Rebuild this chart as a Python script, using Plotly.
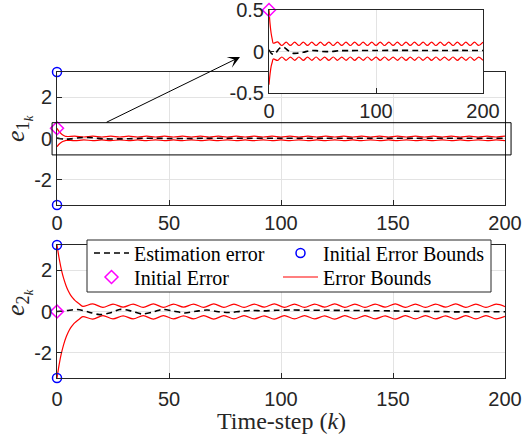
import plotly.graph_objects as go

# ---------------- data ----------------
# e1 estimation error
k_e1 = [0, 3, 6, 10, 14, 18, 22, 27, 32, 38, 44, 50, 58, 66, 75, 85, 100, 120, 140, 160, 180, 200]
e1_est = [0.02, -0.03, -0.02, 0.04, 0.05, 0.01, -0.02, -0.02, -0.01, 0.01, 0.01, 0.0, 0.0, 0.01,
          0.01, 0.012, 0.012, 0.014, 0.012, 0.012, 0.013, 0.012]

# e1 error bounds
k_b1 = [0, 1, 2, 3, 4, 8, 12, 16, 20, 24, 28, 32, 36, 40, 44, 48, 52, 56, 60, 64, 68, 72, 76, 80,
        84, 88, 92, 96, 100, 104, 108, 112, 116, 120, 124, 128, 132, 136, 140, 144, 148, 152,
        156, 160, 164, 168, 172, 176, 180, 184, 188, 192, 196, 200]
e1_up = [0.5, 0.33, 0.22, 0.15, 0.1, 0.115, 0.072, 0.113, 0.073, 0.113, 0.072, 0.114, 0.073,
         0.113, 0.072, 0.113, 0.073, 0.114, 0.072, 0.113, 0.073, 0.113, 0.072, 0.114, 0.073,
         0.113, 0.072, 0.113, 0.073, 0.114, 0.072, 0.113, 0.073, 0.113, 0.072, 0.114, 0.073,
         0.113, 0.072, 0.113, 0.073, 0.114, 0.072, 0.113, 0.073, 0.113, 0.072, 0.114, 0.073,
         0.113, 0.072, 0.113, 0.073, 0.113]
e1_lo = [-0.4, -0.27, -0.18, -0.13, -0.09, -0.108, -0.066, -0.106, -0.067, -0.106, -0.066,
         -0.107, -0.067, -0.106, -0.066, -0.106, -0.067, -0.107, -0.066, -0.106, -0.067,
         -0.106, -0.066, -0.107, -0.067, -0.106, -0.066, -0.106, -0.067, -0.107, -0.066,
         -0.106, -0.067, -0.106, -0.066, -0.107, -0.067, -0.106, -0.066, -0.106, -0.067,
         -0.107, -0.066, -0.106, -0.067, -0.106, -0.066, -0.107, -0.067, -0.106, -0.066,
         -0.106, -0.067, -0.106]

# e2 estimation error
k_e2 = [0, 4, 9, 14, 19, 24, 28, 33, 38, 43, 47, 52, 57, 62, 67, 72, 77, 82, 87, 92, 98, 105,
        112, 120, 130, 140, 150, 160, 170, 180, 190, 200]
e2_est = [0.0, 0.04, 0.1, -0.02, -0.15, -0.06, 0.1, 0.03, -0.12, -0.02, 0.1, 0.02, -0.07, 0.01,
          0.07, -0.01, -0.05, 0.01, 0.05, 0.03, 0.06, 0.07, 0.06, 0.06, 0.05, 0.04, 0.03, 0.01,
          0.0, -0.02, -0.01, -0.01]

# e2 error bounds
k_b2 = [0, 1, 2, 3, 4, 5, 6, 7, 8, 9, 10, 11.5, 16, 20.5, 25, 29.5, 34, 38.5, 43, 47.5, 52,
        56.5, 61, 65.5, 70, 74.5, 79, 83.5, 88, 92.5, 97, 101.5, 106, 110.5, 115, 119.5, 124,
        128.5, 133, 137.5, 142, 146.5, 151, 155.5, 160, 164.5, 169, 173.5, 178, 182.5, 187,
        191.5, 196, 200]
e2_up = [3.24, 2.56, 2.02, 1.6, 1.27, 1.01, 0.81, 0.66, 0.54, 0.45, 0.37, 0.25, 0.37, 0.2,
         0.36, 0.21, 0.36, 0.2, 0.37, 0.2, 0.36, 0.21, 0.36, 0.2, 0.37, 0.2, 0.36, 0.2, 0.36,
         0.21, 0.37, 0.2, 0.36, 0.2, 0.36, 0.21, 0.37, 0.2, 0.36, 0.2, 0.36, 0.21, 0.37, 0.2,
         0.36, 0.2, 0.36, 0.21, 0.37, 0.2, 0.36, 0.2, 0.36, 0.24]
e2_lo = [-3.24, -2.56, -2.02, -1.6, -1.27, -1.01, -0.81, -0.66, -0.54, -0.45, -0.37, -0.25,
         -0.37, -0.2, -0.36, -0.21, -0.36, -0.2, -0.37, -0.2, -0.36, -0.21, -0.36, -0.2, -0.37,
         -0.2, -0.36, -0.2, -0.36, -0.21, -0.37, -0.2, -0.36, -0.2, -0.36, -0.21, -0.37, -0.2,
         -0.36, -0.2, -0.36, -0.21, -0.37, -0.2, -0.36, -0.2, -0.36, -0.21, -0.37, -0.2, -0.36,
         -0.2, -0.36, -0.24]

# initial values
k_init = [0, 0]
init_bounds = [3.24, -3.24]
init_err_1 = [0.5]
init_err_2 = [0.0]

x_ticks_main = [0, 50, 100, 150, 200]
y_ticks_main = [-2, 0, 2]
y_ticklabels_main = ["-2", "0", "2"]
x_ticks_inset = [0, 100, 200]
y_ticks_inset = [-0.5, 0, 0.5]
y_ticklabels_inset = ["-0.5", "0", "0.5"]

x_range = [0, 200]
y_range_main = [-3.24, 3.24]
y_range_inset = [-0.5, 0.5]
zoom_box_x = [-2.2, 202.7]
zoom_box_y = [-0.8, 0.77]

# ---------------- figure ----------------
W, H = 522, 441
def fx(p):
    return p / W
def fy(p):
    return 1 - p / H

RED = "#ff0000"
BLUE = "#0000ff"
MAG = "#ff00ff"
AXC = "#262626"
SERIF = "Liberation Serif"

fig = go.Figure()

def add_panel(xa, ya, k_est, est, k_b, up, lo, init_err, with_bounds_markers, legend_on):
    fig.add_trace(go.Scatter(x=k_b, y=up, mode="lines", line=dict(color=RED, width=1.2, shape="spline", smoothing=0.9),
                             name="Error Bounds", legend="legend4",
                             showlegend=legend_on, xaxis=xa, yaxis=ya))
    fig.add_trace(go.Scatter(x=k_b, y=lo, mode="lines", line=dict(color=RED, width=1.2, shape="spline", smoothing=0.9),
                             showlegend=False, xaxis=xa, yaxis=ya))
    fig.add_trace(go.Scatter(x=k_est, y=est, mode="lines",
                             line=dict(color="black", width=1.6, dash="6px,4px", shape="spline", smoothing=0.9),
                             name="Estimation error", legend="legend",
                             showlegend=legend_on, xaxis=xa, yaxis=ya))
    if with_bounds_markers:
        fig.add_trace(go.Scatter(x=k_init, y=init_bounds, mode="markers", cliponaxis=False,
                                 marker=dict(symbol="circle-open", size=9, color=BLUE, line=dict(width=1.5, color=BLUE)),
                                 name="Initial Error Bounds", legend="legend2",
                                 showlegend=legend_on, xaxis=xa, yaxis=ya))
    fig.add_trace(go.Scatter(x=[0], y=init_err, mode="markers", cliponaxis=False,
                             marker=dict(symbol="diamond-open", size=10, color=MAG, line=dict(width=1.5, color=MAG)),
                             name="Initial Error", legend="legend3",
                             showlegend=legend_on, xaxis=xa, yaxis=ya))

add_panel("x", "y", k_e1, e1_est, k_b1, e1_up, e1_lo, init_err_1, True, True)
add_panel("x2", "y2", k_e2, e2_est, k_b2, e2_up, e2_lo, init_err_2, True, False)
add_panel("x3", "y3", k_e1, e1_est, k_b1, e1_up, e1_lo, init_err_1, False, False)

tickfont = dict(family="Liberation Sans", size=20, color=AXC)
ax_common = dict(showline=True, mirror=True, linecolor=AXC, linewidth=1, ticks="inside",
                 ticklen=5, tickcolor=AXC, showgrid=True, gridcolor="#e3e3e3", gridwidth=1,
                 zeroline=False, tickfont=tickfont, fixedrange=True, ticklabeloverflow="allow")

legend_font = dict(family=SERIF, size=20, color="black")

def legend_at(px_left, px_top):
    return dict(orientation="h", x=fx(px_left), xanchor="left", y=fy(px_top), yanchor="top",
                bgcolor="rgba(0,0,0,0)", borderwidth=0, itemwidth=35, font=legend_font)

main_xdom = [fx(57), fx(505)]
fig.update_layout(
    width=W, height=H,
    font=dict(family=SERIF, color=AXC),
    margin=dict(l=0, r=0, t=0, b=0, autoexpand=False),
    paper_bgcolor="white", plot_bgcolor="white",
    xaxis=dict(domain=main_xdom, anchor="y", range=x_range, tickvals=x_ticks_main, **ax_common),
    yaxis=dict(domain=[fy(205), fy(72)], anchor="x", range=y_range_main, tickvals=y_ticks_main,
               ticktext=y_ticklabels_main, **ax_common),
    xaxis2=dict(domain=main_xdom, anchor="y2", range=x_range, tickvals=x_ticks_main,
                ticklabelstandoff=3, **ax_common),
    yaxis2=dict(domain=[fy(378), fy(245)], anchor="x2", range=y_range_main, tickvals=y_ticks_main,
                ticktext=y_ticklabels_main, **ax_common),
    xaxis3=dict(domain=[fx(269), fx(483)], anchor="y3", range=x_range, tickvals=x_ticks_inset, **ax_common),
    yaxis3=dict(domain=[fy(93), fy(10)], anchor="x3", range=y_range_inset, tickvals=y_ticks_inset,
                ticktext=y_ticklabels_inset, **ax_common),
    legend=legend_at(89, 233.5),
    legend2=legend_at(278, 233.5),
    legend3=legend_at(89, 257.5),
    legend4=legend_at(278, 257.5),
    showlegend=True,
)

# zoom box in data units converted to the top axes' domain fractions
zx0 = (zoom_box_x[0] - x_range[0]) / (x_range[1] - x_range[0])
zx1 = (zoom_box_x[1] - x_range[0]) / (x_range[1] - x_range[0])
zy0 = (zoom_box_y[0] - y_range_main[0]) / (y_range_main[1] - y_range_main[0])
zy1 = (zoom_box_y[1] - y_range_main[0]) / (y_range_main[1] - y_range_main[0])
fig.add_shape(type="rect", xref="x domain", yref="y domain", x0=zx0, x1=zx1, y0=zy0, y1=zy1,
              line=dict(color="black", width=1), fillcolor="rgba(0,0,0,0)", layer="above")

# legend frame
fig.add_shape(type="rect", xref="paper", yref="paper", x0=fx(87), x1=fx(491), y0=fy(292), y1=fy(240),
              line=dict(color=AXC, width=1), fillcolor="white", layer="above")

# arrow to inset
fig.add_annotation(xref="paper", yref="paper", x=fx(240), y=fy(57), ax=105 - 240, ay=123 - 57,
                   axref="pixel", ayref="pixel", text="", showarrow=True, arrowhead=3,
                   arrowsize=2, arrowwidth=1, arrowcolor="black", standoff=0)

fig.add_annotation(xref="paper", yref="paper", x=fx(18), y=fy(129), text="<i>e</i><sub>1<sub><i>k</i></sub></sub>",
                   textangle=-90, showarrow=False, xanchor="center", yanchor="middle",
                   font=dict(family=SERIF, size=26, color=AXC))
fig.add_annotation(xref="paper", yref="paper", x=fx(18), y=fy(303), text="<i>e</i><sub>2<sub><i>k</i></sub></sub>",
                   textangle=-90, showarrow=False, xanchor="center", yanchor="middle",
                   font=dict(family=SERIF, size=26, color=AXC))
fig.add_annotation(xref="paper", yref="paper", x=fx(281), y=fy(421), text="Time-step (<i>k</i>)",
                   showarrow=False, xanchor="center", yanchor="middle",
                   font=dict(family=SERIF, size=24, color=AXC))

fig.write_html("out.html")
